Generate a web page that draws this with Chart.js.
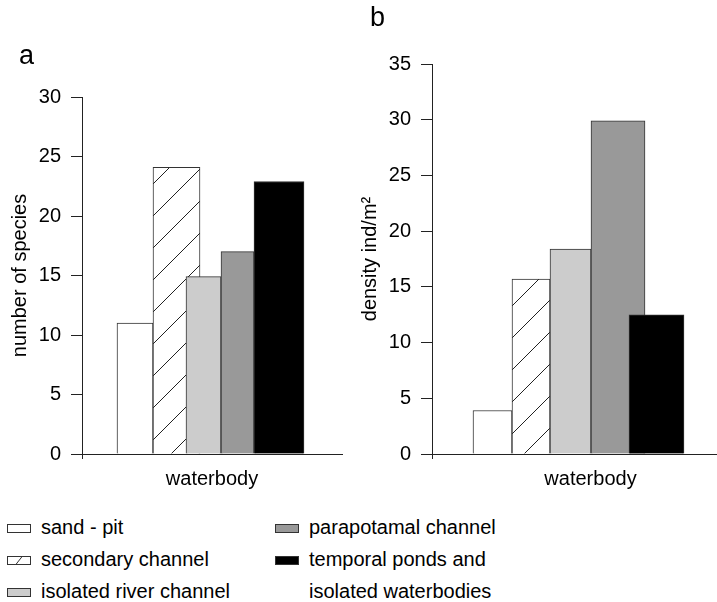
<!DOCTYPE html>
<html>
<head>
<meta charset="utf-8">
<script src="https://cdn.jsdelivr.net/npm/chart.js@4.4.1/dist/chart.umd.min.js"></script>
<style>
  html, body { margin: 0; padding: 0; background: #fff; overflow: hidden; }
  body { width: 717px; height: 602px; position: relative; font-family: "Liberation Sans", Arial, sans-serif; color: #000; }
  canvas { position: absolute; top: 0; }
  #chartA { left: 0; }
  #chartB { left: 360px; }
  .panel { position: absolute; font-size: 27px; line-height: 27px; }
  #legend { position: absolute; left: 7px; top: 511px; width: 700px; font-size: 20px; line-height: 32px; }
  .col { position: absolute; top: 0; }
  .item { position: relative; padding-left: 34px; max-width: 200px; }
  .swatch { position: absolute; left: 0; top: 13px; width: 24px; height: 9px; box-sizing: border-box; border: 1px solid #333; }
</style>
</head>
<body>
<canvas id="chartA" width="360" height="500"></canvas>
<canvas id="chartB" width="390" height="500"></canvas>
<div class="panel" style="left:19px; top:42px">a</div>
<div class="panel" style="left:370px; top:4px">b</div>
<div id="legend"></div>
<script>
const categories = ['sand - pit', 'secondary channel', 'isolated river channel', 'parapotamal channel', 'temporal ponds and isolated waterbodies'];
const speciesCounts = [11, 24.1, 14.9, 17, 22.9];
const densities = [3.9, 15.7, 18.4, 29.9, 12.5];
const speciesTicks = [0, 5, 10, 15, 20, 25, 30];
const densityTicks = [0, 5, 10, 15, 20, 25, 30, 35];

// where each bar sits on the x axis (px from the y axis) - the original bars overlap and vary in width
const layoutA = { span: 260, centers: [53, 94.5, 121.5, 155.5, 197], widths: [36, 47, 35, 33, 50], axisWidth: 82, top: 97, right: 18, titlePad: 10, hatchPhase: 17 };
const layoutB = { span: 317, centers: [60.5, 99, 138.5, 186, 224.5], widths: [39, 38, 41, 54, 55], axisWidth: 72, top: 64, right: 1, titlePad: 0, hatchPhase: 10 };

const FONT = 'Liberation Sans';
const lineColor = '#222';

function hatch(ctx, phase) {
    const c = document.createElement('canvas');
    c.width = 32;
    c.height = 32;
    const g = c.getContext('2d');
    g.fillStyle = '#fff';
    g.fillRect(0, 0, 32, 32);
    g.strokeStyle = lineColor;
    g.lineWidth = 1;
    for (let k = -1; k <= 2; k++) {
        const s = phase + 32 * k;
        g.beginPath();
        g.moveTo(s, 0);
        g.lineTo(s - 32, 32);
        g.stroke();
    }
    return ctx.createPattern(c, 'repeat');
}

function buildChart(id, values, ticks, yTitle, layout) {
    const ctx = document.getElementById(id).getContext('2d');
    const fills = ['#ffffff', hatch(ctx, layout.hatchPhase), '#cccccc', '#999999', '#000000'];

    return new Chart(ctx, {
        type: 'bar',
        data: {
            datasets: categories.map((name, i) => ({
                label: name,
                data: [{ x: layout.centers[i], y: values[i] }],
                backgroundColor: fills[i],
                borderColor: '#333',
                borderWidth: 1,
                barThickness: layout.widths[i],
                grouped: false,
                order: categories.length - i
            }))
        },
        options: {
            responsive: false,
            animation: false,
            devicePixelRatio: 1,
            layout: {
                padding: { top: layout.top, right: layout.right, left: 0, bottom: 0 }
            },
            plugins: {
                legend: { display: false },
                tooltip: { enabled: false }
            },
            scales: {
                x: {
                    type: 'linear',
                    min: 0,
                    max: layout.span,
                    offset: false,
                    grid: { drawOnChartArea: false, tickLength: 5, color: lineColor, offset: false },
                    border: { color: lineColor, width: 1 },
                    ticks: { display: false },
                    afterBuildTicks: scale => { scale.ticks = [{ value: 0 }]; },
                    afterFit: scale => { scale.height = 46; },
                    title: {
                        display: true,
                        text: 'waterbody',
                        color: '#000',
                        font: { family: FONT, size: 20, lineHeight: 1 },
                        padding: { top: 0, bottom: 10.5 }
                    }
                },
                y: {
                    min: 0,
                    max: ticks[ticks.length - 1],
                    afterBuildTicks: scale => { scale.ticks = ticks.map(v => ({ value: v })); },
                    afterFit: scale => { scale.width = layout.axisWidth; },
                    grid: { drawOnChartArea: false, tickLength: 11, color: lineColor },
                    border: { color: lineColor, width: 1 },
                    ticks: { padding: 10, color: '#000', font: { family: FONT, size: 20 } },
                    title: {
                        display: true,
                        text: yTitle,
                        color: '#000',
                        font: { family: FONT, size: 20, lineHeight: 1 },
                        padding: { top: layout.titlePad, bottom: 0 }
                    }
                }
            }
        }
    });
}

buildChart('chartA', speciesCounts, speciesTicks, 'number of species', layoutA);
buildChart('chartB', densities, densityTicks, 'density ind/m²', layoutB);

// legend below both panels, two columns
const swatchFills = [
    '#ffffff',
    'linear-gradient(-52deg, #fff calc(50% - 0.8px), #333 50%, #fff calc(50% + 0.8px))',
    '#cccccc',
    '#999999',
    '#000000'
];
const legend = document.getElementById('legend');
const columns = [[0, 1, 2], [3, 4]];
columns.forEach((idx, c) => {
    const col = document.createElement('div');
    col.className = 'col';
    col.style.left = c === 0 ? '0px' : '268px';
    idx.forEach(i => {
        const item = document.createElement('div');
        item.className = 'item';
        const sw = document.createElement('span');
        sw.className = 'swatch';
        sw.style.background = swatchFills[i];
        item.appendChild(sw);
        item.appendChild(document.createTextNode(categories[i]));
        col.appendChild(item);
    });
    legend.appendChild(col);
});
</script>
</body>
</html>
